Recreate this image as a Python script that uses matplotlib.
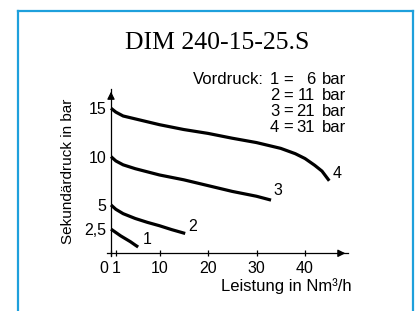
import matplotlib
matplotlib.use("Agg")
import matplotlib.pyplot as plt
from matplotlib.lines import Line2D
from matplotlib.transforms import ScaledTranslation

plt.rcParams['font.family'] = ['Liberation Sans', 'DejaVu Sans']

# ---- data ----
curve1_x = [0, 1, 2, 3, 4, 5, 5.6]
curve1_y = [2.5, 2.15, 1.8, 1.5, 1.2, 0.85, 0.65]
curve2_x = [0, 1, 2.5, 5, 7.5, 10, 12.5, 15.3]
curve2_y = [5, 4.55, 4.1, 3.6, 3.2, 2.85, 2.45, 2.05]
curve3_x = [0, 1, 2.5, 5, 10, 15, 20, 25, 30, 33]
curve3_y = [10, 9.55, 9.15, 8.75, 8.1, 7.6, 7.0, 6.4, 5.9, 5.5]
curve4_x = [0, 1, 2.5, 5, 10, 15, 20, 25, 30, 35, 38, 40, 42, 43.5, 45]
curve4_y = [15, 14.6, 14.2, 13.9, 13.3, 12.8, 12.4, 11.9, 11.45, 10.85, 10.3, 9.8, 9.1, 8.5, 7.5]
curve_labels = ["1", "2", "3", "4"]
label_x = [7.4, 16.8, 34.5, 46.7]
label_y = [1.45, 2.75, 6.5, 8.3]
xticks = [0, 1, 10, 20, 30, 40]
xticklabels = ["0", "1", "10", "20", "30", "40"]
yticks = [2.5, 5, 10, 15]
yticklabels = ["2,5", "5", "10", "15"]
legend_nums = ["1", "2", "3", "4"]
legend_vals = ["6", "11", "21", "31"]
title = "DIM 240-15-25.S"

W, H = 415, 311
fig = plt.figure(figsize=(W / 100, H / 100), dpi=100)
fig.patch.set_facecolor('white')

def fx(px):
    return px / W

def fy(py):
    return 1 - py / H

# blue frame
frame_col = '#1ea0dc'
fig.add_artist(Line2D([fx(17.5), fx(17.5)], [fy(11), -0.05], color=frame_col, lw=1.6, transform=fig.transFigure))
fig.add_artist(Line2D([fx(17.5), fx(413.2)], [fy(11), fy(11)], color=frame_col, lw=1.6, transform=fig.transFigure))
fig.add_artist(Line2D([fx(413.2), fx(413.2)], [fy(11), -0.05], color=frame_col, lw=1.6, transform=fig.transFigure))

# axes: x px = 111 + 4.85*x ; y px = 253.3 - 9.67*y
x0, x1 = -0.8, 48.9
y0, y1 = -0.3, 17.0
left = (111 + 4.85 * x0) / W
right = (111 + 4.85 * x1) / W
bottom = 1 - (253.3 - 9.67 * y0) / H
top = 1 - (253.3 - 9.67 * y1) / H
ax = fig.add_axes([left, bottom, right - left, top - bottom])
ax.set_xlim(x0, x1)
ax.set_ylim(y0, y1)
ax.patch.set_alpha(0)

for s in ['top', 'right']:
    ax.spines[s].set_visible(False)
ax.spines['left'].set_position(('data', 0))
ax.spines['bottom'].set_position(('data', 0))
ax.spines['left'].set_linewidth(0.9)
ax.spines['bottom'].set_linewidth(0.9)

# arrowheads
ax.annotate('', xy=(x1, 0), xytext=(x1 - 2, 0),
            arrowprops=dict(arrowstyle='-|>', color='black', lw=0.9, mutation_scale=11),
            annotation_clip=False)
ax.annotate('', xy=(0, y1), xytext=(0, y1 - 1),
            arrowprops=dict(arrowstyle='-|>', color='black', lw=0.9, mutation_scale=11),
            annotation_clip=False)

ax.set_xticks(xticks)
ax.set_xticklabels(xticklabels)
ax.set_yticks(yticks)
ax.set_yticklabels(yticklabels)
ax.tick_params(axis='x', direction='inout', length=5, width=0.9, pad=3, labelsize=11.5)
ax.tick_params(axis='y', length=0, pad=3.5, labelsize=11.5)
lab0 = ax.get_xticklabels()[0]
lab0.set_transform(lab0.get_transform() + ScaledTranslation(-5 / 72, 0, fig.dpi_scale_trans))

for xs, ys in [(curve1_x, curve1_y), (curve2_x, curve2_y), (curve3_x, curve3_y), (curve4_x, curve4_y)]:
    ax.plot(xs, ys, color='black', lw=2.3, solid_capstyle='butt', solid_joinstyle='round', clip_on=False)

for t, lx, ly in zip(curve_labels, label_x, label_y):
    ax.text(lx, ly, t, ha='center', va='center', fontsize=11.5)

# title
fig.text(fx(217), fy(43), title, ha='center', va='center', fontsize=18.5,
         family=['Liberation Serif', 'DejaVu Serif'])

# legend block
rows_y = [80, 96, 111.7, 127]
fs_leg = 12
fig.text(fx(263.5), fy(rows_y[0]), "Vordruck:", ha='right', va='center', fontsize=fs_leg)
for ry, n, v in zip(rows_y, legend_nums, legend_vals):
    fig.text(fx(270), fy(ry), n, ha='left', va='center', fontsize=fs_leg)
    fig.text(fx(288), fy(ry), "=", ha='center', va='center', fontsize=fs_leg)
    fig.text(fx(315), fy(ry), v, ha='right', va='center', fontsize=fs_leg)
    fig.text(fx(322), fy(ry), "bar", ha='left', va='center', fontsize=fs_leg)

# axis labels
fig.text(fx(68), fy(171), "Sekundärdruck in bar", rotation=90, ha='center', va='center', fontsize=11)
fig.text(fx(351.7), fy(286), "Leistung in Nm³/h", ha='right', va='center', fontsize=12)

fig.savefig("out.png", dpi=100, facecolor='white')
